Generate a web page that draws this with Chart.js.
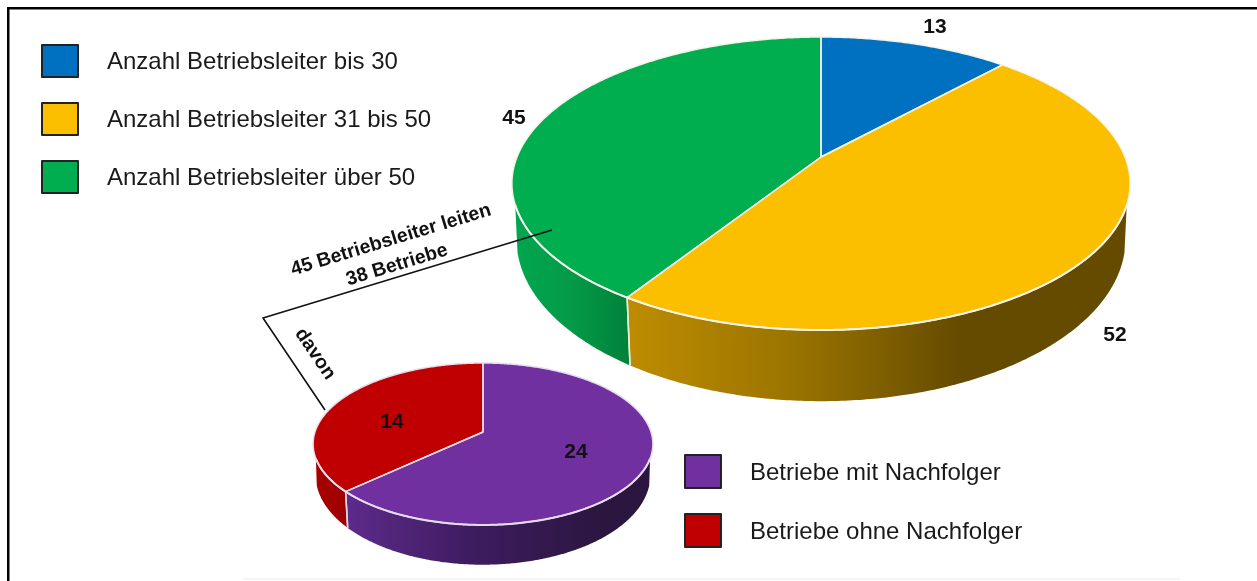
<!DOCTYPE html>
<html><head><meta charset="utf-8">
<style>
html,body{margin:0;padding:0;background:#fff;overflow:hidden;width:1257px;height:581px}
canvas{position:absolute;left:0;top:0}
</style>
<script src="https://cdn.jsdelivr.net/npm/chart.js@4"></script>
</head><body>
<canvas id="big" width="1257" height="581"></canvas>
<canvas id="small" width="1257" height="581"></canvas>
<script>
const leaderCategories = ['Anzahl Betriebsleiter bis 30','Anzahl Betriebsleiter 31 bis 50','Anzahl Betriebsleiter über 50'];
const leaderValues = [13,52,45];
const leaderColors = ['#0070C0','#FCBF00','#00AE50'];
const successionCategories = ['Betriebe mit Nachfolger','Betriebe ohne Nachfolger'];
const successionValues = [24,14];
const successionColors = ['#7030A0','#C00000'];

const RIM_START = 18.6*Math.PI/180;
const BASE_START = 15*Math.PI/180;

function threeD(v){
  return {
    id:'threeD',
    beforeDraw(chart){ if(v.backdrop) v.backdrop(chart.ctx); },
    beforeDatasetDraw(chart){
      const ctx=chart.ctx, arcs=chart.getDatasetMeta(0).data;
      const top=a=>{const x=Math.cos(a),y=Math.sin(a),d=1+v.k*y;return [v.cx+v.A*x/d,v.cy+v.B*y/d];};
      const bot=a=>{const x=Math.cos(a),y=Math.sin(a),d=1+v.k*y;return [v.cx+v.A*v.sx*x/d,v.cy+v.D+v.B*v.sy*y/d];};
      const ang=(s,e)=>{const n=Math.max(2,Math.ceil((e-s)/0.01)),r=[];for(let i=0;i<=n;i++)r.push(s+(e-s)*i/n);return r;};
      arcs.forEach((el,i)=>{
        const s=Math.max(el.startAngle,RIM_START), e=Math.min(el.endAngle,Math.PI-RIM_START);
        const s2=Math.max(el.startAngle,BASE_START), e2=Math.min(el.endAngle,Math.PI-BASE_START);
        if(e<=s||e2<=s2) return;
        ctx.beginPath();
        ang(s,e).forEach((a,j)=>{const p=top(a);j?ctx.lineTo(p[0],p[1]):ctx.moveTo(p[0],p[1]);});
        ang(s2,e2).reverse().forEach(a=>{const p=bot(a);ctx.lineTo(p[0],p[1]);});
        ctx.closePath();
        const g=ctx.createLinearGradient(v.walls[i].x0,0,v.walls[i].x1,0);
        v.walls[i].stops.forEach((c,j,l)=>g.addColorStop(j/(l.length-1),c));
        ctx.fillStyle=g; ctx.fill();
      });
      ctx.strokeStyle=v.seam; ctx.lineWidth=v.seamWidth;
      arcs.forEach(el=>{
        [el.startAngle,el.endAngle].forEach(a=>{
          const w=((a%(2*Math.PI))+2*Math.PI)%(2*Math.PI);
          if(w>0.2&&w<Math.PI-0.2){
            const p=top(a),q=bot(a);
            ctx.beginPath();ctx.moveTo(p[0],p[1]);ctx.lineTo(q[0],q[1]);ctx.stroke();
          }
        });
      });
      arcs.forEach(el=>{
        ctx.beginPath();
        ctx.moveTo(v.cx,v.cy);
        ang(el.startAngle,el.endAngle).forEach(a=>{const p=top(a);ctx.lineTo(p[0],p[1]);});
        ctx.closePath();
        ctx.fillStyle=el.options.backgroundColor; ctx.fill();
      });
      arcs.forEach(el=>{
        ctx.beginPath();
        ctx.moveTo(v.cx,v.cy);
        ang(el.startAngle,el.endAngle).forEach(a=>{const p=top(a);ctx.lineTo(p[0],p[1]);});
        ctx.closePath();
        ctx.strokeStyle=el.options.borderColor; ctx.lineWidth=el.options.borderWidth; ctx.lineJoin='round'; ctx.stroke();
      });
      ctx.beginPath();
      ang(RIM_START,Math.PI-RIM_START).forEach((a,j)=>{const p=top(a);j?ctx.lineTo(p[0],p[1]):ctx.moveTo(p[0],p[1]);});
      ctx.strokeStyle=arcs[0].options.borderColor; ctx.lineWidth=v.rimWidth; ctx.stroke();
      return false;
    },
    afterDraw(chart){
      const ctx=chart.ctx, data=chart.data, ds=data.datasets[0];
      ctx.save();
      ctx.textBaseline='middle';
      data.labels.forEach((t,i)=>{
        const b=v.legend[i];
        ctx.fillStyle=ds.backgroundColor[i]; ctx.strokeStyle='#222'; ctx.lineWidth=2;
        ctx.fillRect(b.x,b.y,v.box[0],v.box[1]); ctx.strokeRect(b.x,b.y,v.box[0],v.box[1]);
        ctx.fillStyle='#1a1a1a'; ctx.textAlign='left'; ctx.font=v.legendFont;
        ctx.fillText(t,v.textX,b.y+v.box[1]/2+1.5);
      });
      ctx.fillStyle='#111'; ctx.textAlign='center'; ctx.font='bold 21px "Liberation Sans"';
      ds.data.forEach((val,i)=>ctx.fillText(String(val),v.valuePos[i][0],v.valuePos[i][1]));
      if(v.overlay) v.overlay(ctx);
      ctx.restore();
    }
  };
}

const bigView={
  cx:821,cy:157,A:304,B:141.7,k:-0.181,D:53,sx:0.985,sy:1.105,seam:'#e8efe0',seamWidth:1.5,rimWidth:2,
  walls:[
    {x0:820,x1:1000,stops:['#004f85','#004f85']},
    {x0:627,x1:960,stops:['#BE8C00','#9A7400','#654B00']},
    {x0:510,x1:632,stops:['#00A850','#049A48','#008039']}
  ],
  box:[36,32],textX:107,legendFont:'24px "Liberation Sans"',
  legend:[{x:42,y:45},{x:42,y:103},{x:42,y:161}],
  valuePos:[[935,27],[1115,335],[514,118]],
  backdrop(ctx){
    ctx.save();
    ctx.fillStyle='#000';
    ctx.fillRect(7,7,1250,2.5);
    ctx.fillRect(7,7,2.5,574);
    ctx.fillStyle='#ececec';
    ctx.fillRect(243,578.5,937,1);
    ctx.restore();
  },
  overlay(ctx){
    ctx.strokeStyle='#111'; ctx.lineWidth=1.6;
    ctx.beginPath();ctx.moveTo(552,230);ctx.lineTo(263,318);ctx.lineTo(325,410);ctx.stroke();
    ctx.fillStyle='#111'; ctx.textAlign='center';
    ctx.font='bold 19.5px "Liberation Sans"';
    [['45 Betriebsleiter leiten',391,240,-16.9],['38 Betriebe',397,265,-16.9],['davon',315,354,56]].forEach(t=>{
      ctx.save();ctx.translate(t[1],t[2]);ctx.rotate(t[3]*Math.PI/180);ctx.fillText(t[0],0,0);ctx.restore();
    });
  }
};
const smallView={
  cx:483,cy:432,A:168,B:79.2,k:-0.148,D:30,sx:0.985,sy:1.105,seam:'#e0d8e8',seamWidth:1.5,rimWidth:2,
  walls:[
    {x0:343,x1:600,stops:['#5E2B8C','#3E1C60','#2B1640']},
    {x0:312,x1:345,stops:['#A80000','#A00000']}
  ],
  box:[36,33],textX:750,legendFont:'24px "Liberation Sans"',
  legend:[{x:685,y:455},{x:685,y:514}],
  valuePos:[[576,452],[392,422]]
};

function makeChart(id,labels,values,colors,view,border){
  return new Chart(document.getElementById(id),{
    type:'pie',
    data:{labels:labels,datasets:[{data:values,backgroundColor:colors,borderColor:border,borderWidth:1.5}]},
    options:{responsive:false,animation:false,plugins:{legend:{display:false},tooltip:{enabled:false}}},
    plugins:[threeD(view)]
  });
}
makeChart('big',leaderCategories,leaderValues,leaderColors,bigView,'#f4f4ea');
makeChart('small',successionCategories,successionValues,successionColors,smallView,'#e6dcec');
</script>
</body></html>
